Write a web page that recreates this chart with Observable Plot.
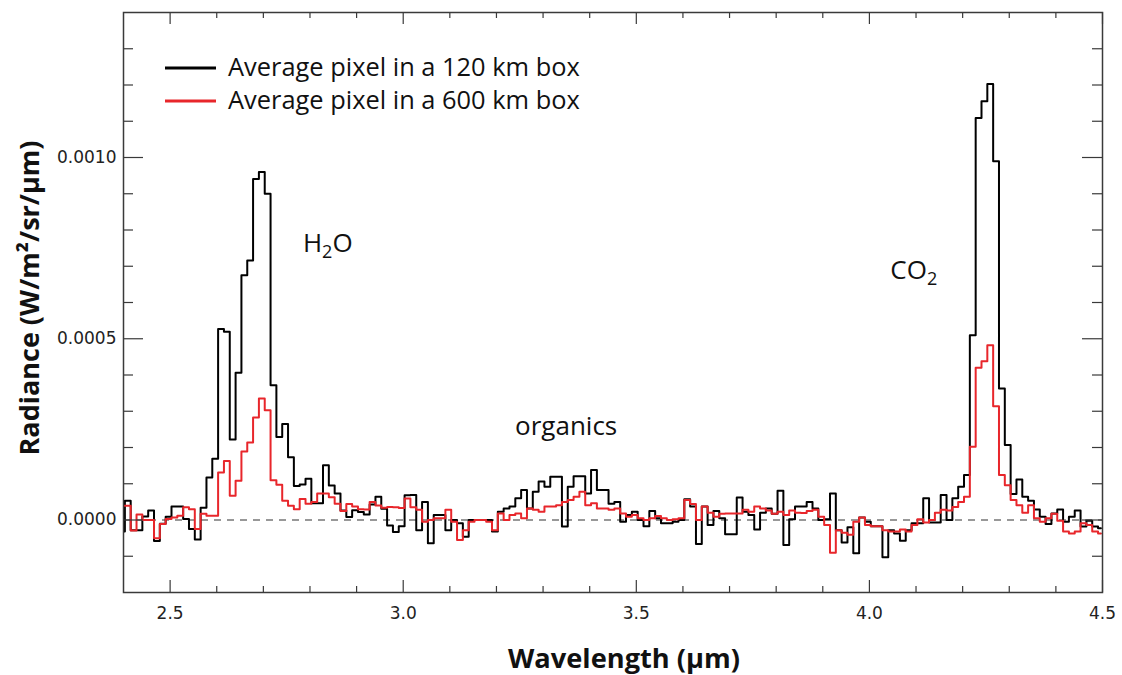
<!DOCTYPE html>
<html><head><meta charset="utf-8">
<script src="https://cdn.jsdelivr.net/npm/d3@7"></script>
<script src="https://cdn.jsdelivr.net/npm/@observablehq/plot@0.6"></script>
<style>
body{margin:0;background:#fff}
#chart svg{display:block}
</style>
</head><body><div id="chart"></div>
<script>
// Spectral grid (µm): first bin centre and sampling step
const lambdaStart = 2.3967;
const lambdaStep = 0.0125;
// Radiance values in units of 1e-5 W/m²/sr/µm
const radianceUnit = 1e-5;
const radiance120km = [
 -3.2,5.3,-2.8,-2.8,1.0,2.6,-5.8,-1.0,0.9,3.7,
 3.7,0.3,-2.5,-5.4,3.4,11.7,16.9,52.7,51.9,22.2,
 40.6,67.5,71.6,94.1,96.0,90.0,37.2,22.9,26.5,17.3,
 9.4,9.8,11.4,4.6,4.6,15.1,9.5,7.3,2.6,0.8,
 2.7,2.2,1.5,4.3,6.4,3.1,-1.5,-3.3,-1.7,6.8,
 6.9,-2.8,5.0,-6.4,1.4,1.4,-2.8,0,-0.9,-4.6,
 0,0,0,0,-3.2,2.3,3.2,3.7,6.0,8.3,
 3.2,7.8,10.6,9.2,11.9,11.9,-1.8,9.2,12.1,12.1,
 7.3,13.8,8.3,8.3,4.5,5.0,-0.5,1.4,2.3,0,
 -1.7,2.5,0.5,-0.9,-0.9,-0.5,0,5.7,3.7,-6.6,
 3.7,-1.4,2.5,0.5,-3.9,-3.9,6.2,2.3,1.4,-2.6,
 2.0,3.2,1.7,8.1,-6.9,0.2,3.7,3.7,5.0,3.2,
 0,0.2,7.3,-2.8,-6.2,-2.0,-9.2,0.7,-0.5,-1.7,
 -1.7,-10.3,-2.8,-3.7,-5.7,-2.8,-0.9,-0.9,6.0,-0.7,
 -0.7,6.9,0,6.0,9.2,12.4,51.0,110.9,115.5,120.3,
 99.0,36.3,20.7,7.2,11.2,6.4,5.3,2.9,0.9,-1.1,
 1.8,2.9,-0.5,0.9,2.6,-1.8,-0.2,-1.8,-2.3
];
const radiance600km = [
 3.9,3.9,-2.9,1.5,0,0,-5.0,-1.1,0.3,0.7,
 1.2,3.5,3.0,-2.5,1.7,1.2,1.2,13.1,16.3,6.7,
 10.8,18.9,21.4,28.3,33.5,30.3,11.0,9.7,5.3,3.9,
 3.0,5.8,4.5,5.0,7.3,7.3,6.3,4.5,2.5,4.4,
 3.7,3.0,2.9,5.0,4.0,3.4,3.6,3.5,3.3,5.9,
 3.5,2.8,-0.5,0,0.5,0.5,2.8,-0.5,-5.5,-2.8,
 -0.5,0,0,-0.5,-2.8,1.8,0,1.4,1.8,0.5,
 3.2,2.8,2.3,3.7,3.7,4.1,5.0,5.5,6.4,7.8,
 4.1,4.6,3.2,3.2,2.8,3.2,1.8,0.9,1.4,0.5,
 0,0.5,1.1,0.5,0,0.2,0.5,5.5,4.4,0,
 3.7,2.0,0.9,1.7,1.8,1.8,1.8,2.8,2.3,3.7,
 3.2,2.6,1.7,2.3,1.4,2.6,2.0,1.9,2.5,2.8,
 0.9,-1.4,-9.0,-2.8,-3.5,-4.1,-0.5,0.7,-1.4,-1.7,
 -1.7,-2.8,-3.2,-3.2,-2.6,-3.2,-1.4,0.2,-0.7,0,
 2.0,2.8,2.6,3.6,5.0,6.4,20.2,42.0,43.8,48.2,
 31.4,12.4,9.6,5.5,4.1,2.0,4.1,0.5,-0.5,0.5,
 1.7,-0.2,-3.2,-3.7,-3.2,-0.9,-1.4,-3.2,-3.7
];
const seriesNames = ["Average pixel in a 120 km box", "Average pixel in a 600 km box"];
const seriesColors = ["#000000", "#e8262b"];
const xMajorTicks = [2.5, 3.0, 3.5, 4.0, 4.5];
const xMinorTicks = [2.6,2.7,2.8,2.9,3.1,3.2,3.3,3.4,3.6,3.7,3.8,3.9,4.1,4.2,4.3,4.4];
const yMajorTicks = [0, 0.0005, 0.0010];
const yMinorTicks = [-0.0001,0.0001,0.0002,0.0003,0.0004,0.0006,0.0007,0.0008,0.0009,0.0011,0.0012,0.0013];
const annotations = [
  {main: "H", sub: "2", tail: "O", x: 2.786, y: 0.000738},
  {main: "organics", sub: "", tail: "", x: 3.241, y: 0.000234},
  {main: "CO", sub: "2", tail: "", x: 4.046, y: 0.000664}
];

const wavelength = d3.range(radiance120km.length).map(i => lambdaStart + i * lambdaStep);
const data120 = wavelength.map((w, i) => ({w, r: radiance120km[i] * radianceUnit}));
const data600 = wavelength.map((w, i) => ({w, r: radiance600km[i] * radianceUnit}));

const W = 1122, H = 675, mL = 123, mR = 20, mT = 12, mB = 83;
const innerW = W - mL - mR, innerH = H - mT - mB;
const tickFont = "'DejaVu Sans', sans-serif";
const axisColor = "#3a3a3a";

const plot = Plot.plot({
  width: W, height: H,
  marginLeft: mL, marginRight: mR, marginTop: mT, marginBottom: mB,
  x: {domain: [2.4, 4.5], axis: null},
  y: {domain: [-0.0002, 0.0014], axis: null},
  style: {background: "#fff", overflow: "visible"},
  marks: [
    Plot.ruleY([0], {stroke: "#333", strokeWidth: 1.2, strokeDasharray: "7,6"}),
    Plot.line(data120, {x: "w", y: "r", curve: "step", stroke: seriesColors[0], strokeWidth: 2, clip: true}),
    Plot.line(data600, {x: "w", y: "r", curve: "step", stroke: seriesColors[1], strokeWidth: 2, clip: true}),
    // inward ticks on all four sides
    Plot.tickX(xMajorTicks, {x: d => d, insetTop: innerH - 12, stroke: axisColor, strokeWidth: 1.2}),
    Plot.tickX(xMajorTicks, {x: d => d, insetBottom: innerH - 12, stroke: axisColor, strokeWidth: 1.2}),
    Plot.tickX(xMinorTicks, {x: d => d, insetTop: innerH - 6, stroke: axisColor, strokeWidth: 1.2}),
    Plot.tickX(xMinorTicks, {x: d => d, insetBottom: innerH - 6, stroke: axisColor, strokeWidth: 1.2}),
    Plot.tickY(yMajorTicks, {y: d => d, insetRight: innerW - 20, stroke: axisColor, strokeWidth: 1.2}),
    Plot.tickY(yMajorTicks, {y: d => d, insetLeft: innerW - 20, stroke: axisColor, strokeWidth: 1.2}),
    Plot.tickY(yMinorTicks, {y: d => d, insetRight: innerW - 10, stroke: axisColor, strokeWidth: 1.2}),
    Plot.tickY(yMinorTicks, {y: d => d, insetLeft: innerW - 10, stroke: axisColor, strokeWidth: 1.2}),
    Plot.frame({stroke: axisColor, strokeWidth: 1.5}),
    // tick labels
    Plot.text(xMajorTicks, {x: d => d, frameAnchor: "bottom", lineAnchor: "top", dy: 14,
      text: d => d3.format(".1f")(d), fontSize: 17, fontFamily: tickFont, fill: "#222"}),
    Plot.text(yMajorTicks, {y: d => d, frameAnchor: "left", textAnchor: "end", dx: -7,
      text: d => d3.format(".4f")(d), fontSize: 17, fontFamily: tickFont, fill: "#222"})
  ]
});
document.getElementById("chart").appendChild(plot);

const svg = d3.select(plot);
const sx = plot.scale("x"), sy = plot.scale("y");
const textFont = "'Open Sans', sans-serif";

function fit(sel, target, size) {
  const w = sel.node().getComputedTextLength();
  if (w > 0) sel.attr("font-size", size * target / w);
}

// Legend
const leg = svg.append("g").attr("text-anchor", "start");
seriesNames.forEach((name, i) => {
  const yy = 68 + i * 33;
  leg.append("line").attr("x1", 165).attr("x2", 216).attr("y1", yy).attr("y2", yy)
    .attr("stroke", seriesColors[i]).attr("stroke-width", 3);
  const t = leg.append("text").attr("x", 228).attr("y", yy + 8).attr("text-anchor", "start")
    .attr("font-family", textFont).attr("font-size", 22).attr("fill", "#111").text(name);
  fit(t, 352, 22);
});

// Annotations
annotations.forEach(a => {
  const t = svg.append("text").attr("x", sx.apply(a.x)).attr("y", sy.apply(a.y)).attr("text-anchor", "start")
    .attr("font-family", textFont).attr("font-size", 26).attr("fill", "#111");
  t.append("tspan").text(a.main);
  if (a.sub) t.append("tspan").attr("font-size", 18).attr("dy", 6).text(a.sub);
  if (a.tail) t.append("tspan").attr("dy", -6).text(a.tail);
});

// Axis titles
const xt = svg.append("text").attr("x", 624).attr("y", 668).attr("text-anchor", "middle")
  .attr("font-family", textFont).attr("font-weight", 700).attr("font-size", 26).attr("fill", "#111")
  .text("Wavelength (µm)");
fit(xt, 232, 26);
const yt = svg.append("text").attr("transform", "translate(39,298) rotate(-90)").attr("text-anchor", "middle")
  .attr("font-family", textFont).attr("font-weight", 700).attr("font-size", 24).attr("fill", "#111")
  .text("Radiance (W/m²/sr/µm)");
fit(yt, 315, 24);
</script>
</body></html>
